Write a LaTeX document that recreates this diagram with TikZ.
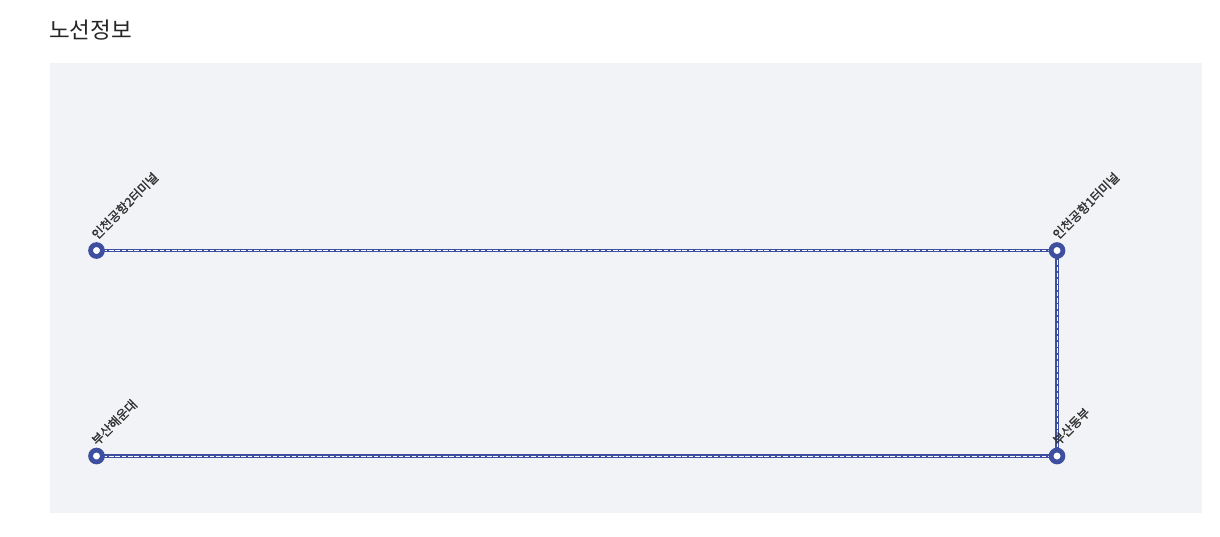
\documentclass[tikz,border=0pt]{standalone}
\usepackage{fontspec}
\setmainfont{Noto Sans CJK KR}
\newfontfamily\kr{Noto Sans CJK KR}
\newfontfamily\krb[FakeBold=1.3]{Noto Sans CJK KR}
\definecolor{panel}{HTML}{F2F3F7}
\definecolor{route}{RGB}{63,79,160}
\definecolor{lbl}{HTML}{333333}
\begin{document}
\begin{tikzpicture}[x=1pt,y=-1pt,
  station/.style={circle,draw=none,minimum size=16.6pt,inner sep=0pt},
  ring/.style={draw=route,line width=4.8pt,fill=white},
  lbltext/.style={anchor=south west,rotate=45,inner sep=0pt,font=\krb\fontsize{12.5}{13}\selectfont,text=lbl},
  routeline/.style={route,line width=3.4pt},
  routedash/.style={white,line width=0.9pt,dash pattern=on 4.5pt off 1.8pt}]
\useasboundingbox (0,0) rectangle (1220,536);
\fill[white] (0,0) rectangle (1220,536);
\fill[panel] (50,63) rectangle (1202,513);
\node[anchor=west,inner sep=0pt,font=\kr\fontsize{22.5}{26}\selectfont,text=black!85] (title) at (49,30) {노선정보};
\node[station] (sa) at (96.5,250.5) {};
\node[station] (sb) at (1057,250.5) {};
\node[station] (sc) at (1057,456) {};
\node[station] (sd) at (96.5,456) {};
\draw[routeline] (sa.center) -- (sb.center) -- (sc.center);
\draw[routeline] (sd.center) -- (sc.center);
\draw[routedash] (sa.center) -- (sb.center) -- (sc.center);
\draw[routedash] (sd.center) -- (sc.center);
\foreach \s in {sa,sb,sc,sd} \draw[ring] (\s.center) circle[radius=5.9pt];
\node[lbltext] (la) at (98,241) {인천공항2터미널};
\node[lbltext] (lb) at (1059,241) {인천공항1터미널};
\node[lbltext] (lc) at (1059,447) {부산동부};
\node[lbltext] (ld) at (98,447) {부산해운대};
\end{tikzpicture}
\end{document}
